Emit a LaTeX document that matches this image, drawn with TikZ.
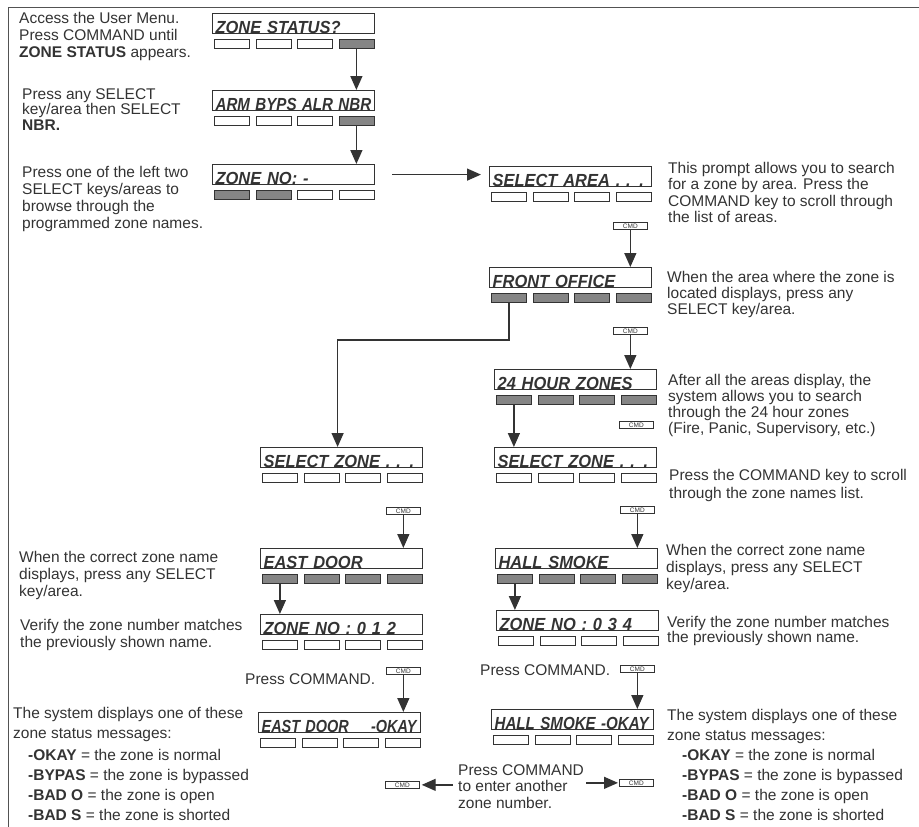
\documentclass[tikz,border=0pt]{standalone}
\usepackage{fontspec}
\setmainfont{Liberation Sans}
\newfontfamily\lcdfont{Liberation Sans}[FakeStretch=0.94]
\usepackage{graphicx}
\usetikzlibrary{positioning,arrows.meta}

\definecolor{ink}{HTML}{333333}
\definecolor{keyshade}{HTML}{858585}

\tikzset{
    lcd/.style={draw=ink, line width=1.2pt, anchor=north west, inner xsep=3pt, inner ysep=0pt,
        text width=156pt, text height=20pt, text depth=0pt, minimum height=20pt, align=left,
        text=ink, font=\lcdfont\fontsize{17.5}{18}\selectfont\bfseries\itshape},
    key/.style={draw=ink, line width=0.8pt, anchor=north west, inner sep=0pt,
        minimum width=35pt, minimum height=9pt},
    cmd/.style={draw=ink, line width=0.7pt, anchor=north west, inner sep=0pt,
        minimum width=34pt, minimum height=7pt, text=ink, font=\fontsize{6.5}{6.5}\selectfont},
    note/.style={anchor=north west, align=left, inner sep=0pt, text=ink,
        font=\fontsize{15.5}{17}\selectfont},
    arr/.style={draw=ink, line width=1.4pt, -{Triangle[length=14pt,width=12pt]}},
}

% display with its four keys: name, position, text, key fills
\newcommand{\lcdunit}[4]{%
    \node[lcd] (#1) at #2 {#3};
    \foreach \f [count=\k] in {#4}
        \node[key, fill=\f] (#1-k\k) at ([xshift={(\k-1)*41.5pt+2pt}, yshift=-5pt]#1.south west) {};
}

\begin{document}
\begin{tikzpicture}[x=1pt, y=-1pt]
    \useasboundingbox (0,0) rectangle (919,827);
    \draw[ink!85, line width=1pt] (919,7) -- (8,7) -- (8,827);

    %% left column
    \lcdunit{zstat}{(212,13)}{ZONE STATUS?}{white,white,white,keyshade}
    \lcdunit{arm}{(212,90)}{\scalebox{0.92}[1]{ARM BYPS ALR NBR}}{white,white,white,keyshade}
    \lcdunit{zno}{(212,164)}{ZONE NO: -}{keyshade,keyshade,white,white}

    %% search by area
    \lcdunit{selarea}{(489,166)}{SELECT AREA . . .}{white,white,white,white}
    \lcdunit{front}{(489,267)}{FRONT OFFICE}{keyshade,keyshade,keyshade,keyshade}
    \lcdunit{hour}{(494,369)}{24 HOUR ZONES}{keyshade,keyshade,keyshade,keyshade}

    %% zone lists
    \lcdunit{zoneL}{(260,447)}{SELECT ZONE . . .}{white,white,white,white}
    \lcdunit{zoneR}{(494,447)}{SELECT ZONE . . .}{white,white,white,white}
    \lcdunit{east}{(260,548)}{EAST DOOR}{keyshade,keyshade,keyshade,keyshade}
    \lcdunit{hall}{(495,548)}{HALL SMOKE}{keyshade,keyshade,keyshade,keyshade}
    \lcdunit{numL}{(260,614)}{ZONE NO : 0 1 2}{white,white,white,white}
    \lcdunit{numR}{(496,610)}{ZONE NO : 0 3 4}{white,white,white,white}
    \lcdunit{eastok}{(258,712)}{\makebox[155pt][s]{\scalebox{0.88}[1]{EAST DOOR}\hfill\scalebox{0.88}[1]{-OKAY}}}{white,white,white,white}
    \lcdunit{hallok}{(491,709)}{\scalebox{0.92}[1]{HALL SMOKE -OKAY}}{white,white,white,white}

    %% command keys
    \node[cmd] (cmdA) at (613,222) {CMD};
    \node[cmd] (cmdB) at (613,327) {CMD};
    \node[cmd] (cmdC) at (619,421) {CMD};
    \node[cmd] (cmdD) at (620,506) {CMD};
    \node[cmd] (cmdE) at (386,507) {CMD};
    \node[cmd] (cmdF) at (386,667) {CMD};
    \node[cmd] (cmdG) at (620,665) {CMD};
    \node[cmd] (cmdH) at (385,781) {CMD};
    \node[cmd] (cmdI) at (619,779) {CMD};

    %% notes
    \node[note] (n-access) at (19,12) {Access the User Menu.\\Press COMMAND until\\\textbf{ZONE STATUS} appears.};
    \node[note, font=\fontsize{15.5}{15.5}\selectfont] (n-nbr) at (22,88) {Press any SELECT\\key/area then SELECT\\\textbf{NBR.}};
    \node[note] (n-browse) at (22,166) {Press one of the left two\\SELECT keys/areas to\\browse through the\\programmed zone names.};
    \node[note, font=\fontsize{15.5}{16.3}\selectfont] (n-prompt) at (668,162) {This prompt allows you to search\\for a zone by area. Press the\\COMMAND key to scroll through\\the list of areas.};
    \node[note, font=\fontsize{15.5}{15.8}\selectfont] (n-area) at (667,271) {When the area where the zone is\\located displays, press any\\SELECT key/area.};
    \node[note, font=\fontsize{15.5}{16}\selectfont] (n-after) at (668,374) {After all the areas display, the\\system allows you to search\\through the 24 hour zones\\(Fire, Panic, Supervisory, etc.)};
    \node[note, font=\fontsize{15.5}{18}\selectfont] (n-scroll) at (669,469) {Press the COMMAND key to scroll\\through the zone names list.};
    \node[note] (n-nameR) at (666,544) {When the correct zone name\\displays, press any SELECT\\key/area.};
    \node[note, font=\fontsize{15.5}{15.5}\selectfont] (n-verR) at (667,616) {Verify the zone number matches\\the previously shown name.};
    \node[note] (n-nameL) at (19,551) {When the correct zone name\\displays, press any SELECT\\key/area.};
    \node[note] (n-verL) at (20,619) {Verify the zone number matches\\the previously shown name.};
    \node[note] (n-pressL) at (245,673) {Press COMMAND.};
    \node[note] (n-pressR) at (480,664) {Press COMMAND.};
    \node[note, font=\fontsize{15.5}{16.5}\selectfont] (n-again) at (458,764) {Press COMMAND\\to enter another\\zone number.};
    \node[note, font=\fontsize{15.5}{20}\selectfont] (n-statL) at (13,707) {The system displays one of these\\zone status messages:\\[2pt]
        \hspace*{15pt}\textbf{-OKAY} = the zone is normal\\
        \hspace*{15pt}\textbf{-BYPAS} = the zone is bypassed\\
        \hspace*{15pt}\textbf{-BAD O} = the zone is open\\
        \hspace*{15pt}\textbf{-BAD S} = the zone is shorted};
    \node[note, font=\fontsize{15.5}{20}\selectfont] (n-statR) at (667,709) {The system displays one of these\\zone status messages:\\
        \hspace*{15pt}\textbf{-OKAY} = the zone is normal\\
        \hspace*{15pt}\textbf{-BYPAS} = the zone is bypassed\\
        \hspace*{15pt}\textbf{-BAD O} = the zone is open\\
        \hspace*{15pt}\textbf{-BAD S} = the zone is shorted};

    %% arrows
    \draw[arr] (zstat-k4.south) -- (zstat-k4.south |- arm.north);
    \draw[arr] (arm-k4.south) -- (arm-k4.south |- zno.north);
    \draw[arr] ([xshift=17pt]zno.east) -- ([xshift=-8pt]zno.east -| selarea.west);
    \draw[arr] (cmdA.south) -- (cmdA.south |- front.north);
    \draw[arr] (front-k1.south) -- ++(0,37) -| ([xshift=-4pt]zoneL.north);
    \draw[arr] (cmdB.south) -- (cmdB.south |- hour.north);
    \draw[arr] (hour-k1.south) -- (hour-k1.south |- zoneR.north);
    \draw[arr] (cmdE.south) -- (cmdE.south |- east.north);
    \draw[arr] (cmdD.south) -- (cmdD.south |- hall.north);
    \draw[arr] (east-k1.south) -- (east-k1.south |- numL.north);
    \draw[arr] (hall-k1.south) -- (hall-k1.south |- numR.north);
    \draw[arr] (cmdF.south) -- (cmdF.south |- eastok.north);
    \draw[arr] (cmdG.south) -- (cmdG.south |- hallok.north);
    \draw[arr] ([xshift=-5pt]n-again.west |- cmdH.east) -- ([xshift=2pt]cmdH.east);
    \draw[arr] ([xshift=2pt]n-again.east |- cmdI.west) -- ([xshift=-1pt]cmdI.west);
\end{tikzpicture}
\end{document}
